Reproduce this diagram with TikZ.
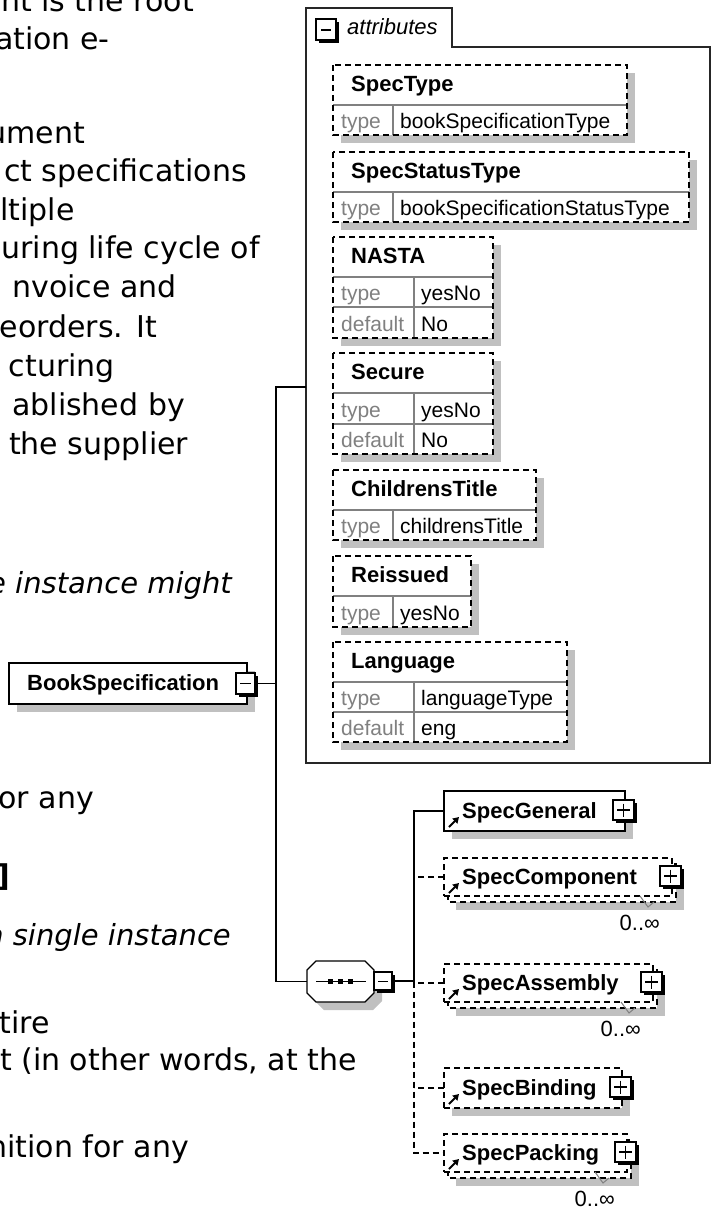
\documentclass[tikz,border=0pt]{standalone}
\usepackage{fontspec}
\setmainfont{DejaVu Sans}
\newfontfamily\dgf{Liberation Sans}
\usetikzlibrary{arrows.meta}
\definecolor{shad}{RGB}{192,192,192}
\definecolor{rulec}{RGB}{128,128,128}
% attribute box: #1 name, #2 top, #3 right, #4 bottom, #5 label
\newcommand{\attrhead}[5]{%
  \fill[shad] (341,#2+8) rectangle (#3+8,#4+8);
  \fill[white] (333,#2) rectangle (#3,#4);
  \draw[rulec,line width=1.2pt] (333,#2+40) -- (#3,#2+40);
  \node[nm] (#1) at (351,#2+26.5) {#5};
}
% column divider: #1 x, #2 top, #3 bottom
\newcommand{\attrcol}[3]{\draw[rulec,line width=1.2pt] (#1,#2) -- (#1,#3);}
% row: #1 name, #2 row bottom, #3 column x, #4 key, #5 value
\newcommand{\attrrow}[5]{%
  \node[keyt] (#1k) at (341,#2-6.5) {#4};
  \node[valt] (#1v) at (#3+7,#2-6.5) {#5};
}
% plus box: #1 name, #2 right edge of element, #3 centre y
\newcommand{\plusbox}[3]{%
  \fill (#2-9,#3-8) rectangle (#2+12,#3+12);
  \node[draw,fill=white,line width=1.3pt,minimum width=21pt,minimum height=20pt,inner sep=0pt,outer sep=0pt] (#1) at (#2-1.5,#3-1) {};
  \draw[line width=1.4pt] (#2-8,#3-1) -- (#2+5,#3-1) (#2-1.5,#3-7.5) -- (#2-1.5,#3+5.5);
}
% reference arrow icon: #1 centre y
\newcommand{\refarrow}[1]{%
  \draw[line width=2pt,-{Triangle[length=6pt,width=7pt]}] (449,#1+16) -- (459,#1+6);
}
\begin{document}
\begin{tikzpicture}[x=1pt,y=-1pt,
  lt/.style={inner sep=0pt,font=\fontsize{30}{36}\selectfont},
  lti/.style={inner sep=0pt,font=\fontsize{29}{36}\selectfont\itshape},
  nm/.style={inner sep=0pt,anchor=base west,font=\dgf\bfseries\fontsize{22}{26}\selectfont},
  keyt/.style={inner sep=0pt,anchor=base west,text=rulec,font=\dgf\fontsize{21}{24}\selectfont},
  valt/.style={inner sep=0pt,anchor=base west,font=\dgf\fontsize{21}{24}\selectfont},
  occ/.style={inner sep=0pt,anchor=base east,font=\dgf\fontsize{22}{26}\selectfont},
  dsh/.style={dash pattern=on 6pt off 4pt},
  bord/.style={line width=1.7pt},
  conn/.style={line width=1.7pt},
  elbox/.style={draw,fill=white,bord,inner sep=0pt,outer sep=0pt,anchor=west},
  minusb/.style={draw,fill=white,line width=1.3pt,inner sep=0pt,outer sep=0pt}]
\useasboundingbox (0,0) rectangle (712,1209);
\clip (0,0) rectangle (712,1209);
\fill[white] (0,0) rectangle (712,1209);

% ---------- left-hand text (cut off at the left edge) ----------
\node[lt,anchor=base east] (t1) at (194,12) {nt is the root};
\node[lt,anchor=base east] (t2) at (110,50) {ation e-};
\node[lt,anchor=base east] (t3) at (85,144) {ument};
\node[lt,anchor=base east] (t4) at (247,182) {ct specifications};
\node[lt,anchor=base west] (t5) at (0,220) {ltiple};
\node[lt,anchor=base east] (t6) at (260,258) {uring life cycle of};
\node[lt,anchor=base east] (t7) at (177,297) {nvoice and};
\node[lt,anchor=base east] (t8) at (157,337) {eorders. It};
\node[lt,anchor=base east] (t9) at (115,376) {cturing};
\node[lt,anchor=base east] (t10) at (185,415) {ablished by};
\node[lt,anchor=base west] (t11) at (9,454) {the supplier};
\node[lti,anchor=base east] (t12) at (232,593) {e instance might};
\node[lt,anchor=base east] (t13) at (94,808) {or any};
\node[lt,anchor=base east,font=\fontsize{30}{36}\selectfont\bfseries] (t14) at (10,886) {]};
\node[lti,anchor=base east] (t15) at (231,945) {a single instance};
\node[lt,anchor=base east] (t16) at (50,1033) {tire};
\node[lt,anchor=base east] (t17) at (357,1070) {t (in other words, at the};
\node[lt,anchor=base east] (t18) at (189,1157) {nition for any};

% ---------- root element ----------
\fill[shad] (17,671) rectangle (255,712);
\node[elbox,minimum width=238pt,minimum height=41pt] (book) at (9,683.5) {};
\node[nm] (booktxt) at (27,690) {BookSpecification};
\fill (239,676) rectangle (258,697);
\node[minusb,minimum width=19pt,minimum height=21pt] (bookminus) at (245.5,683.5) {};
\draw[line width=1.3pt] (240,683.5) -- (251,683.5);

% ---------- attributes container ----------
\draw[bord,black!85] (306,8) -- (452,8) -- (452,47) -- (710,47) -- (710,763) -- (306,763) -- cycle;
\coordinate (attrs) at (306,387);
\fill (319,22) rectangle (339,43);
\node[minusb,minimum width=20pt,minimum height=21pt] (attrminus) at (326,29.5) {};
\draw[line width=1.3pt] (321,30) -- (331,30);
\node[inner sep=0pt,anchor=base west,font=\dgf\itshape\fontsize{22}{26}\selectfont] (attrlabel) at (347,35) {attributes};

% SpecType
\attrhead{spectype}{65}{627}{135}{SpecType}
\attrcol{393}{105}{135}
\attrrow{spectyperow}{135}{393}{type}{bookSpecificationType}
\draw[bord,dsh] (333,65) rectangle (627,135);
% SpecStatusType
\attrhead{specstatus}{152}{689}{222}{SpecStatusType}
\attrcol{393}{192}{222}
\attrrow{specstatusrow}{222}{393}{type}{bookSpecificationStatusType}
\draw[bord,dsh] (333,152) rectangle (689,222);
% NASTA
\attrhead{nasta}{237}{493}{338}{NASTA}
\draw[rulec,line width=1.2pt] (333,307) -- (493,307);
\attrcol{414}{277}{338}
\attrrow{nastatype}{307}{414}{type}{yesNo}
\attrrow{nastadef}{338}{414}{default}{No}
\draw[bord,dsh] (333,237) rectangle (493,338);
% Secure
\attrhead{secure}{353}{493}{454}{Secure}
\draw[rulec,line width=1.2pt] (333,424) -- (493,424);
\attrcol{414}{393}{454}
\attrrow{securetype}{424}{414}{type}{yesNo}
\attrrow{securedef}{454}{414}{default}{No}
\draw[bord,dsh] (333,353) rectangle (493,454);
% ChildrensTitle
\attrhead{childrens}{470}{536}{540}{ChildrensTitle}
\attrcol{393}{510}{540}
\attrrow{childrenstype}{540}{393}{type}{childrensTitle}
\draw[bord,dsh] (333,470) rectangle (536,540);
% Reissued
\attrhead{reissued}{556}{471}{627}{Reissued}
\attrcol{393}{596}{627}
\attrrow{reissuedtype}{627}{393}{type}{yesNo}
\draw[bord,dsh] (333,556) rectangle (471,627);
% Language
\attrhead{language}{642}{567}{742}{Language}
\draw[rulec,line width=1.2pt] (333,712) -- (567,712);
\attrcol{414}{682}{742}
\attrrow{languagetype}{712}{414}{type}{languageType}
\attrrow{languagedef}{742}{414}{default}{eng}
\draw[bord,dsh] (333,642) rectangle (567,742);

% ---------- sequence compositor ----------
\fill[shad] (324,969) -- (373,969) -- (382,978) -- (382,1001) -- (373,1010) -- (324,1010) -- (315,1001) -- (315,978) -- cycle;
\node[inner sep=0pt,outer sep=0pt,minimum width=67pt,minimum height=41pt] (seq) at (340.5,981.5) {};
\draw[line width=1.3pt,fill=white] (316,961) -- (365,961) -- (374,970) -- (374,993) -- (365,1002) -- (316,1002) -- (307,993) -- (307,970) -- cycle;
\draw[line width=1.3pt] (316,981.5) -- (366,981.5);
\foreach \q in {330,340,350} \fill (\q-2.5,979) rectangle (\q+2.5,984);
\fill (377,975) rectangle (395,993);
\node[minusb,minimum width=18pt,minimum height=18pt] (seqminus) at (383,981) {};
\draw[line width=1.3pt] (378,981.5) -- (388,981.5);

% ---------- children ----------
% SpecGeneral (single, solid)
\fill[shad] (452,799) rectangle (633,839);
\node[elbox,minimum width=181pt,minimum height=40pt] (sg) at (444,811) {};
\node[nm] (sgtxt) at (462,818) {SpecGeneral};
\plusbox{sgplus}{625}{811}
\refarrow{811}

% SpecComponent (multiple, dashed)
\fill[shad] (456,872) rectangle (684,910);
\draw[bord,dsh,fill=white] (448,864) rectangle (676,902);
\node[elbox,dsh,minimum width=228pt,minimum height=38pt] (sc) at (444,877) {};
\node[nm] (sctxt) at (462,884) {SpecComponent};
\plusbox{scplus}{672}{877}
\refarrow{877}
\draw[gray,line width=1pt] (640,896) -- (648,907) -- (654,902);
\node[occ] (scocc) at (660,930) {0..∞};

% SpecAssembly (multiple, dashed)
\fill[shad] (456,978) rectangle (665,1016);
\draw[bord,dsh,fill=white] (448,970) rectangle (657,1008);
\node[elbox,dsh,minimum width=209pt,minimum height=38pt] (sa) at (444,983) {};
\node[nm] (satxt) at (462,990) {SpecAssembly};
\plusbox{saplus}{653}{983}
\refarrow{983}
\draw[gray,line width=1pt] (621,1002) -- (629,1013) -- (635,1008);
\node[occ] (saocc) at (641,1036) {0..∞};

% SpecBinding (single, dashed)
\fill[shad] (452,1076) rectangle (630,1116);
\node[elbox,dsh,minimum width=178pt,minimum height=40pt] (sb) at (444,1088) {};
\node[nm] (sbtxt) at (462,1095) {SpecBinding};
\plusbox{sbplus}{622}{1088}
\refarrow{1088}

% SpecPacking (multiple, dashed)
\fill[shad] (456,1148) rectangle (639,1186);
\draw[bord,dsh,fill=white] (448,1140) rectangle (631,1178);
\node[elbox,dsh,minimum width=183pt,minimum height=38pt] (sp) at (444,1153) {};
\node[nm] (sptxt) at (462,1160) {SpecPacking};
\plusbox{spplus}{627}{1153}
\refarrow{1153}
\draw[gray,line width=1pt] (595,1172) -- (603,1183) -- (609,1178);
\node[occ] (spocc) at (615,1206) {0..∞};

% ---------- connectors ----------
\coordinate (vtop) at (276,387);
\coordinate (vbot) at (276,981.5);
\draw[conn] (bookminus.east) -- (bookminus.east -| vtop);
\draw[conn] (attrs) -- (vtop) -- (vbot) -- (seq.west);
\coordinate (cvtop) at (414,811);
\coordinate (cvmid) at (414,981.5);
\coordinate (cvbot) at (414,1153);
\draw[conn] (seqminus.east) -- (seqminus.east -| cvmid);
\draw[conn] (sg.west) -- (cvtop) -- (cvmid);
\draw[conn,dsh] (cvmid) -- (cvbot) -- (sp.west);
\draw[conn,dsh] (sc.west) -- (sc.west -| cvtop);
\draw[conn,dsh] (sa.west) -- (sa.west -| cvtop);
\draw[conn,dsh] (sb.west) -- (sb.west -| cvtop);
\end{tikzpicture}
\end{document}
